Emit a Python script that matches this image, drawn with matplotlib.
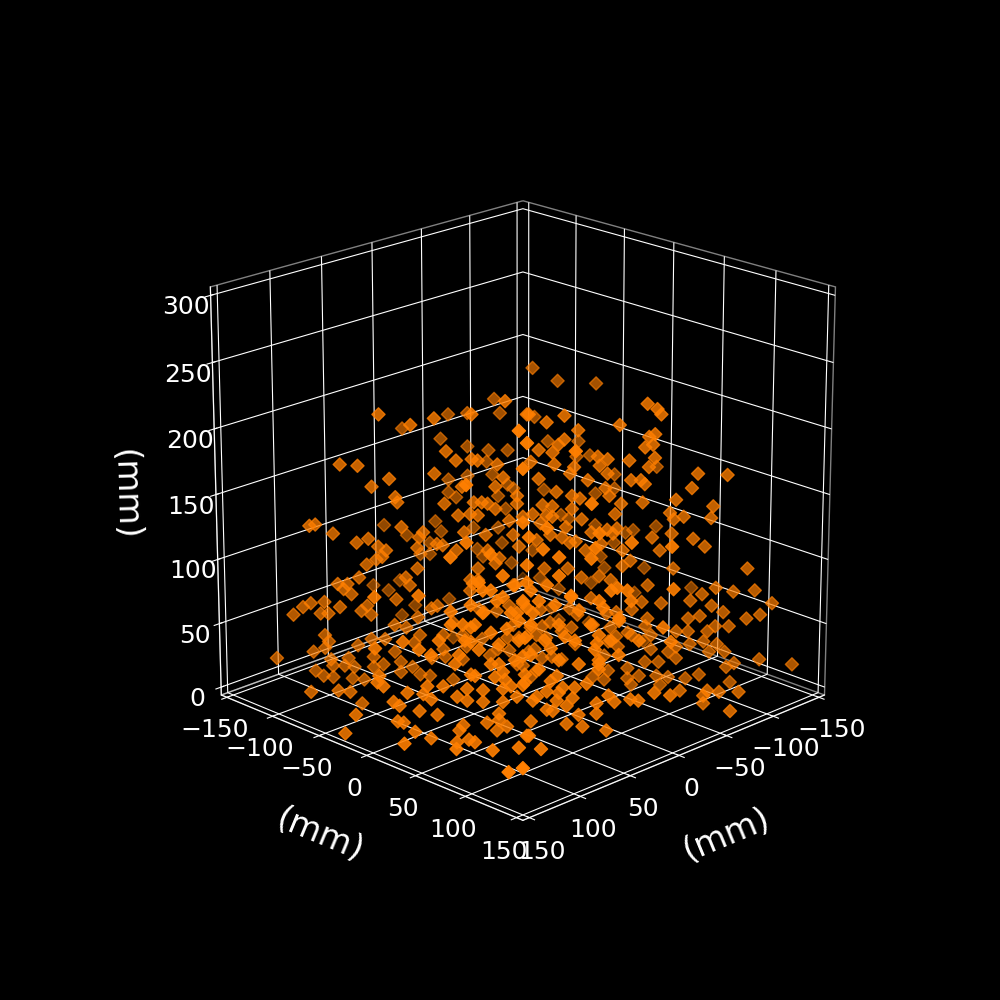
import matplotlib
matplotlib.use("Agg")
from matplotlib import pyplot as plt

ORANGE = "#ff7f00"

# upper left part of the cloud
x_a = [73,3,57,45,-21,-31,26,-45,9,-48,
       -2,62,-17,-31,39,34,-42,-52,26,23,
       -41,13,93,84,45,68,-21,-31,-44,77,
       88,31,14,10,-52,-21,-25,-47,-55,3,
       65,64,40,3,25,21,18,14,-51,33,
       27,23,-14,7,0,109,106,13,62,1,
       -17,-34,30,-47,19,5,97,79,51,53,
       -11,85,88,-49,74,70,44,41,54,-6,
       -11,-36,18,2,34,96,-39,76,12,75,
       80,54,23,-54,14]
y_a = [-73,-123,-57,-45,-99,-89,-26,-75,-9,-72,
       2,58,-103,-89,-39,-34,-78,-68,-26,-23,
       -79,-13,-93,-84,-45,-68,-99,-89,-76,-77,
       32,-31,-14,-10,-68,-99,-95,-73,-65,-3,
       -65,-64,-40,-3,-25,-21,-18,-14,-69,-33,
       -27,-23,-106,-7,0,-109,-106,-133,-62,-121,
       -103,-86,-30,-73,-19,-5,-97,-79,-51,-53,
       -109,-85,32,-71,-74,-70,-44,-41,-54,-114,
       -109,-84,-18,-2,-34,24,-81,44,-12,-75,
       -80,-54,-23,-66,-14]
z_a = [211,171,203,208,182,183,211,194,221,183,
       211,228,163,157,183,176,154,154,177,176,
       145,173,173,172,166,162,131,134,135,156,
       188,156,156,163,127,121,117,118,124,149,
       148,144,143,143,144,144,143,139,108,134,
       135,134,98,130,133,126,127,95,125,87,
       90,93,121,93,119,119,120,116,121,117,
       81,113,145,81,110,107,112,111,109,72,
       72,76,107,110,107,134,70,136,101,100,
       96,93,93,65,97]

# upper right part
x_b = [-65,-78,-98,-63,-68,-70,-3,-66,-12,-21,
       -49,-28,-89,-73,-21,-18,-15,58,-8,34,
       -88,-95,-64,-67,-62,-66,-67,-54,-64,-130,
       -38,-43,-39,-43,-108,-16,-26,-24,-4,60,
       -89,-104,-55,-60,-62,-33,-8,-86,-71,-17,
       -98,-42,-108,-44,-25,-29,-61,-78,-50,26,
       -10,-15,-25,-5,-75,-77,-82,-97,-96,-47,
       -30,-12,-15,-80,-84,60,-9,-98,-130,48,
       -22,-48,-118,-114,22,-35,-46,-43,-76,57,
       -7,-14,-20,-66,-87,6,-108,-24,-27,-40,
       24,-14,-93,-70,50,-65,-32,-51,42,26,
       -101,-55,-124,-77,-115,-103,58,-11,-23,-51]
y_b = [-55,-42,-22,63,68,70,3,-54,12,21,
       49,28,-31,-47,21,18,15,62,8,86,
       -32,-25,64,67,62,66,67,54,64,10,
       38,43,39,43,-12,16,26,24,4,60,
       89,104,55,60,62,33,8,86,-49,17,
       -22,42,-12,44,25,29,61,78,50,94,
       10,15,25,5,75,77,82,97,96,47,
       30,12,15,-40,-36,60,9,-22,10,72,
       22,48,-2,-6,98,35,46,43,76,63,
       7,14,20,66,87,114,-12,24,27,40,
       96,134,93,70,70,-55,32,51,78,94,
       -19,55,4,77,115,-17,62,11,23,51]
z_b = [218,208,206,219,215,211,211,180,205,210,
       203,199,161,161,192,188,182,219,184,213,
       149,150,194,196,186,188,178,176,171,141,
       179,177,172,166,135,173,171,166,175,200,
       166,165,161,161,158,161,162,155,123,152,
       120,155,124,149,149,147,144,146,143,174,
       142,141,139,135,136,131,133,141,132,135,
       131,134,133,103,100,160,128,95,94,156,
       125,124,91,89,152,121,120,123,120,149,
       115,119,117,117,116,145,81,113,114,112,
       141,142,110,107,140,75,107,107,134,133,
       70,99,61,93,93,61,128,93,93,95]

# lower left part
x_c = [84,95,90,92,88,19,11,5,60,58,
       134,72,65,112,-3,118,113,109,102,94,
       104,100,83,78,80,4,54,47,44,-21,
       96,66,60,36,90,31,102,100,102,108,
       85,78,71,134,120,66,56,53,112,47,
       41,40,41,-23,92,29,31,21,17,72,
       8,7,3,127,99,90,92,98,87,107,
       103,98,88,77,77,72,132,133,130,82,
       63,63,57,53,48,36,84,74,70,108,
       100,88,80,70,66,60,138,124,118,118,
       110,106,93,88,80,70,63,112,144,125,
       122,112,103,72,72,123,120,90,78,73,
       68,92,150,124,144,116,123,108,102,99,
       105,92,127,120,73,22,23,31,36,23,
       80,70,7,5,12,63,86,20,5,-2,
       13,60,86]
y_c = [-84,-95,-90,-92,-88,-139,-131,-125,-60,-58,
       -14,-72,-65,8,-117,-118,-113,-109,-102,-94,
       -104,-100,-83,-78,-80,-124,-54,-47,-44,-99,
       24,-66,-60,-36,30,-31,-102,-100,-102,-108,
       -85,-78,-71,-14,0,-66,-56,-53,8,-47,
       -41,-40,-41,-97,28,-29,-31,-21,-17,48,
       -8,-7,-3,-127,-99,-90,-92,-98,-87,-107,
       -103,-98,-88,-77,-77,-72,-12,-13,-10,-82,
       -63,-63,-57,-53,-48,-36,36,46,50,12,
       20,32,40,50,54,60,-78,-64,-58,2,
       10,14,27,32,40,50,57,-52,-24,-5,
       -2,8,17,48,48,-3,0,30,42,47,
       52,28,-29,16,26,24,57,42,48,51,
       75,88,113,120,77,-23,-31,-23,-15,-23,
       40,50,-7,-5,-15,57,34,-20,-5,2,
       -13,60,34]
z_c = [86,81,81,77,73,47,43,51,86,80,
       104,102,69,105,31,57,63,66,67,63,
       58,58,60,57,64,23,55,62,64,36,
       93,49,47,51,83,41,41,36,31,28,
       33,38,38,65,70,28,35,41,64,23,
       30,24,41,5,60,32,22,38,25,53,
       39,29,18,23,22,23,17,17,16,13,
       9,8,7,24,16,18,44,39,36,6,
       12,20,16,10,9,6,44,43,47,36,
       36,34,33,34,36,37,14,15,14,31,
       30,26,28,25,24,24,28,5,14,24,
       21,17,14,15,10,9,8,6,8,2,
       5,2,0,7,7,2,6,2,4,2,
       5,7,7,10,7,61,82,78,87,84,
       109,104,64,80,59,92,81,59,49,40,
       30,59,70]

# lower right part, the last point sits in the far corner
x_d = [58,-9,-14,36,-28,-79,-69,58,-30,-39,
       13,8,-64,-119,-15,-149,-92,-99,-108,-119,
       -128,-86,-97,-61,-71,-103,-115,-122,-91,-85,
       -106,-99,-85,-95,-10,-64,-56,12,-43,-95,
       -25,-79,55,0,-10,-4,-56,-63,-66,-79,
       -14,-79,-86,-93,-100,-96,-104,-79,-75,-70,
       -124,-66,-63,-54,-49,-44,23,22,-42,22,
       -27,39,46,-20,-10,-7,59,-3,0,-7,
       59,-4,43,46,34,40,42,35,28,-36,
       -42,-44,-54,-54,-56,-60,-69,-71,-75,-84,
       -91,-105,-109,-122,-139,-107,-80,-70,-64,-62,
       -62,-60,-50,-6,-14,2,6,14,17,23,
       23,32,38,45,48,55,56,38,30,18,
       72,81,48,53,43,-96,-45,-35,20,-48,
       -24,-75,-20,-36,-45,-48,22,-12,-6,-15,
       62,2,-150]
y_d = [62,9,14,84,28,-41,-51,62,30,39,
       107,112,64,-1,135,29,92,99,108,119,
       128,86,97,61,71,103,115,122,91,85,
       106,99,85,95,130,64,56,108,43,-25,
       25,-41,65,0,10,4,56,63,66,79,
       134,79,86,93,100,96,104,79,75,70,
       4,66,63,54,49,44,97,98,42,98,
       27,81,74,20,10,7,61,3,0,7,
       61,4,77,74,86,80,78,85,92,36,
       42,44,54,54,56,60,69,71,75,84,
       91,105,109,122,139,107,140,130,124,122,
       122,150,110,126,134,118,114,106,103,97,
       97,88,82,75,72,65,64,82,90,102,
       78,99,72,67,77,-24,45,35,100,48,
       24,-45,20,36,45,48,98,12,6,15,
       58,-2,-150]
z_d = [96,61,51,104,57,44,53,115,86,87,
       111,109,80,41,110,45,73,78,75,76,
       66,68,64,67,66,59,54,57,56,54,
       48,48,44,44,81,54,61,88,58,17,
       47,19,92,66,48,47,41,48,41,44,
       70,32,34,36,34,28,28,23,28,20,
       2,30,20,43,32,36,69,56,25,53,
       34,74,65,22,23,41,73,28,17,13,
       39,8,44,40,35,35,31,27,38,8,
       6,13,15,7,2,9,9,2,8,7,
       10,16,19,22,18,4,14,14,15,11,
       5,8,15,31,29,25,26,24,29,23,
       15,14,21,17,18,25,9,7,5,2,
       7,6,32,28,25,49,84,70,96,59,
       62,29,44,49,47,40,75,39,30,24,
       86,39,3]

# dense middle of the cloud
x_e = [82,76,70,64,86,80,73,66,60,56,
       84,76,68,62,56,89,82,72,64,56,
       49,44,52,48,42,36,32,26,34,22,
       16,24,16,12,6,42,96,102,106,94,
       86,52,42,32,22,12,2,76,69,59]
y_e = [38,44,50,56,34,40,47,54,60,64,
       36,44,52,58,64,31,38,48,56,64,
       71,76,68,72,78,84,88,94,86,98,
       104,96,104,108,114,78,24,18,14,26,
       34,68,78,88,98,108,118,44,51,61]
z_e = [115,109,120,113,98,92,101,92,101,109,
       83,77,80,71,83,71,64,68,56,60,
       71,98,101,113,120,105,94,83,71,101,
       109,64,71,86,101,83,83,71,60,53,
       45,49,56,53,49,60,71,53,41,45]

xs = x_a + x_b + x_c + x_d + x_e
ys = y_a + y_b + y_c + y_d + y_e
zs = z_a + z_b + z_c + z_d + z_e

plt.style.use("dark_background")
fig = plt.figure(figsize=(10, 10), dpi=100)
ax = fig.add_subplot(111, projection="3d")
ax.view_init(elev=20, azim=45)
ax.set_box_aspect((1, 1, 1), zoom=0.948)

ax.scatter(xs, ys, zs, c=ORANGE, marker="D", s=45)

ax.set_xlim(-156.25, 156.25)
ax.set_ylim(-156.25, 156.25)
ax.set_zlim(-6.25, 306.25)
ax.set_xticks(range(-150, 151, 50))
ax.set_yticks(range(-150, 151, 50))
ax.set_zticks(range(0, 301, 50))
ax.tick_params(labelsize=18)
ax.set_xlabel("(mm)", fontsize=24, labelpad=22)
ax.set_ylabel("(mm)", fontsize=24, labelpad=22)
ax.set_zlabel("(mm)", fontsize=24, labelpad=22)
for axis in (ax.xaxis, ax.yaxis, ax.zaxis):
    axis.set_rotate_label(True)
    axis.pane.fill = False
    axis.pane.set_edgecolor((1, 1, 1, 0.5))

fig.savefig("out.png", dpi=100, facecolor="black")
